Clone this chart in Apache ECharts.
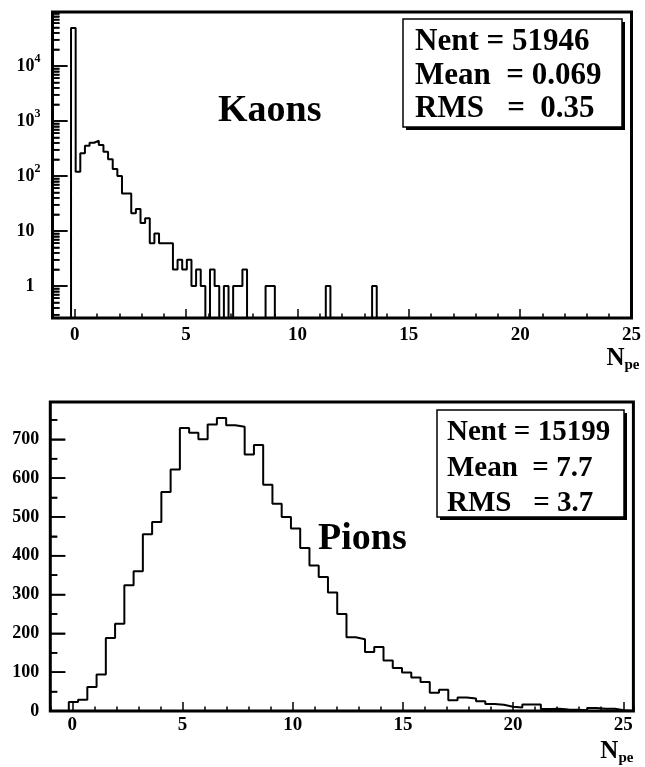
<!DOCTYPE html>
<html><head><meta charset="utf-8">
<script src="https://cdn.jsdelivr.net/npm/echarts@6/dist/echarts.min.js"></script>
<style>html,body{margin:0;padding:0;background:#fff}#c{width:645px;height:767px}</style>
</head><body><div id="c"></div>
<script>
// ---- Kaons histogram (125 bins of width 0.208 starting at -1) ----
const kaonBinStart = -1;
const kaonBinWidth = 0.208;
const kaonCounts = [
  0,0,0,0,49000,120,259,356,403,438,
  366,277,201,134,100,48,48,21,25,14,
  17,6,9,6,6,6,2,3,2,3,
  1,2,1,0,2,1,0,1,0,1,
  1,2,0,0,0,0,1,1,0,0,
  0,0,0,0,0,0,0,0,0,1,
  0,0,0,0,0,0,0,0,0,1,
  0,0,0,0,0,0,0,0,0,0,
  0,0,0,0,0,0,0,0,0,0,
  0,0,0,0,0,0,0,0,0,0,
  0,0,0,0,0,0,0,0,0,0,
  0,0,0,0,0,0,0,0,0,0,
  0,0,0,0,0
];
// ---- Pions histogram (63 bins of width 0.42 starting at -1) ----
const pionBinStart = -1;
const pionBinWidth = 0.42;
const pionCounts = [
  0,0,23,29,62,94,188,225,324,360,
  455,487,564,622,729,717,700,738,755,736,
  732,661,685,583,534,500,470,420,375,345,
  305,250,190,185,152,165,130,111,99,86,
  75,47,55,28,35,32,25,18,16,11,
  9,17,17,5,6,4,3,2,8,6,
  6,2,0
];
// ---- tick labels / tick positions ----
const xMajorTicks = [0,5,10,15,20,25];
const kaonMajorTicks = [1,10,100,1000,10000];
const kaonMinorTicks = [0.3,0.4,0.5,0.6,0.7,0.8,0.9,2,3,4,5,6,7,8,9,20,30,40,50,60,70,80,90,
  200,300,400,500,600,700,800,900,2000,3000,4000,5000,6000,7000,8000,9000,20000,30000,40000,50000,60000,70000,80000,90000];
const pionMajorTicks = [0,100,200,300,400,500,600,700];
const pionMinorTicks = [50,150,250,350,450,550,650,750];
const kaonStats = ['Nent = 51946','Mean  = 0.069','RMS   =  0.35'];
const pionStats = ['Nent = 15199','Mean  = 7.7','RMS   = 3.7'];

const FONT = '"Liberation Serif", "Times New Roman", serif';
const LOG_FLOOR = 0.01; // empty bins drawn below the log-axis minimum (clipped)
const KAON_YMIN = 0.2619, KAON_YMAX = 95900, PION_YMAX = 796;
const X_MIN = -1;

function stepData(start, width, counts, floor) {
  const pts = counts.map((c, i) => [start + width * i, (floor !== undefined && c <= 0) ? floor : c]);
  const last = pts[pts.length - 1][1];
  pts.push([start + width * counts.length, last]);
  return pts;
}

const chart = echarts.init(document.getElementById('c'), null, {renderer: 'canvas'});
const labelStyle = {color: '#000', fontFamily: FONT, fontWeight: 'bold', fontSize: 18};
const nameRich = {
  n: {fontFamily: FONT, fontWeight: 'bold', fontSize: 25, color: '#000'},
  s: {fontFamily: FONT, fontWeight: 'bold', fontSize: 15, color: '#000', padding: [14, 0, 0, 0]}
};
function noLine() { return {show: false, onZero: false}; }
function tickStyle(len) { return {show: true, inside: true, length: len, lineStyle: {color: '#000', width: 1.5}}; }
function majorX(grid, max, gap) {
  return {
    gridIndex: grid, type: 'value', min: X_MIN, max: max, position: 'bottom',
    axisLine: noLine(), splitLine: {show: false},
    axisTick: Object.assign(tickStyle(9), {customValues: xMajorTicks}),
    axisLabel: Object.assign({customValues: xMajorTicks, margin: grid === 0 ? 8 : 5}, labelStyle, {fontSize: 19}),
    name: '{n|N}{s|pe}', nameLocation: 'end', nameGap: gap,
    nameTextStyle: {align: 'right', verticalAlign: 'top', padding: [26, 0, 0, 0], rich: nameRich}
  };
}
function minorX(grid, max) {
  return {
    gridIndex: grid, type: 'value', min: X_MIN, max: max, interval: 1, position: 'bottom',
    axisLine: noLine(), splitLine: {show: false}, axisLabel: {show: false},
    axisTick: tickStyle(4.5)
  };
}
// y-axis tick marks pointing into the frame, placed through the axes' own scales
function yTickSeries(xIdx, yIdx, values, len) {
  return {
    type: 'custom', xAxisIndex: xIdx, yAxisIndex: yIdx, clip: false, silent: true, z: 100,
    data: values.map(v => [X_MIN, v]),
    renderItem: function (params, api) {
      const p = api.coord([X_MIN, api.value(1)]);
      return {type: 'line', z2: 100, shape: {x1: p[0], y1: p[1], x2: p[0] + len, y2: p[1]},
              style: {stroke: '#000', lineWidth: 1.6}};
    }
  };
}
const pionMax = pionBinStart + pionBinWidth * pionCounts.length;
const topGrid = {left: 52.5, top: 12, width: 579, height: 306};
const botGrid = {left: 50.3, top: 402, width: 583.1, height: 309};

chart.setOption({
  animation: false,
  backgroundColor: '#fff',
  grid: [
    Object.assign({show: true, borderColor: '#000', borderWidth: 3}, topGrid),
    Object.assign({show: false}, topGrid),
    Object.assign({show: true, borderColor: '#000', borderWidth: 3}, botGrid),
    Object.assign({show: false}, botGrid)
  ],
  xAxis: [
    majorX(0, 25, 8), minorX(1, 25),
    majorX(2, pionMax, 0), minorX(3, pionMax)
  ],
  yAxis: [
    {
      gridIndex: 0, type: 'log', logBase: 10, min: KAON_YMIN, max: KAON_YMAX, position: 'left',
      axisLine: noLine(), splitLine: {show: false},
      axisTick: Object.assign(tickStyle(15), {customValues: kaonMajorTicks}),
      axisLabel: Object.assign({
        customValues: kaonMajorTicks, margin: 12,
        formatter: function (v) {
          const e = Math.round(Math.log10(v));
          if (e === 0) return '{p|1}';
          if (e === 1) return '{p|10}';
          return '{b|10}{s|' + e + '}';
        },
        rich: {
          p: {fontFamily: FONT, fontWeight: 'bold', fontSize: 18, color: '#000', padding: [0, 6, 0, 0]},
          b: {fontFamily: FONT, fontWeight: 'bold', fontSize: 18, color: '#000'},
          s: {fontFamily: FONT, fontWeight: 'bold', fontSize: 12, color: '#000', padding: [0, 0, 14, 0]}
        }
      }, labelStyle)
    },
    {
      gridIndex: 1, type: 'log', logBase: 10, min: KAON_YMIN, max: KAON_YMAX, position: 'left',
      axisLine: noLine(), splitLine: {show: false}, axisLabel: {show: false},
      axisTick: Object.assign(tickStyle(7), {customValues: kaonMinorTicks})
    },
    {
      gridIndex: 2, type: 'value', min: 0, max: PION_YMAX, position: 'left',
      axisLine: noLine(), splitLine: {show: false},
      axisTick: Object.assign(tickStyle(15), {customValues: pionMajorTicks}),
      axisLabel: Object.assign({customValues: pionMajorTicks, margin: 11}, labelStyle)
    },
    {
      gridIndex: 3, type: 'value', min: 0, max: PION_YMAX, interval: 50, position: 'left',
      axisLine: noLine(), splitLine: {show: false}, axisLabel: {show: false},
      axisTick: tickStyle(7)
    }
  ],
  series: [
    {
      name: 'Kaons', type: 'line', step: 'end', xAxisIndex: 0, yAxisIndex: 0, clip: true,
      symbol: 'none', lineStyle: {color: '#000', width: 2},
      data: stepData(kaonBinStart, kaonBinWidth, kaonCounts, LOG_FLOOR)
    },
    {
      name: 'Pions', type: 'line', step: 'end', xAxisIndex: 2, yAxisIndex: 2, clip: true,
      symbol: 'none', lineStyle: {color: '#000', width: 2},
      data: stepData(pionBinStart, pionBinWidth, pionCounts)
    },
    yTickSeries(0, 0, kaonMajorTicks, 15),
    yTickSeries(0, 0, kaonMinorTicks, 7),
    yTickSeries(2, 2, pionMajorTicks, 15),
    yTickSeries(2, 2, pionMinorTicks, 7)
  ],
  graphic: [
    {type: 'text', x: 218, y: 111.5, z: 10, style: {text: 'Kaons', fontFamily: FONT, fontWeight: 'bold', fontSize: 38, fill: '#000', align: 'left', verticalAlign: 'middle'}},
    {type: 'text', x: 318, y: 539.5, z: 10, style: {text: 'Pions', fontFamily: FONT, fontWeight: 'bold', fontSize: 38, fill: '#000', align: 'left', verticalAlign: 'middle'}},
    {type: 'rect', z: 10, shape: {x: 406, y: 22, width: 219, height: 108}, style: {fill: '#000'}},
    {type: 'rect', z: 11, shape: {x: 403, y: 19, width: 219, height: 108}, style: {fill: '#fff', stroke: '#000', lineWidth: 1.5}},
    {type: 'rect', z: 10, shape: {x: 440, y: 413, width: 187, height: 107}, style: {fill: '#000'}},
    {type: 'rect', z: 11, shape: {x: 437, y: 410, width: 187, height: 107}, style: {fill: '#fff', stroke: '#000', lineWidth: 1.5}}
  ].concat(kaonStats.map((t, i) => ({
    type: 'text', z: 12, x: 415, y: [41.7, 75.8, 109][i],
    style: {text: t, fontFamily: FONT, fontWeight: 'bold', fontSize: 31, fill: '#000', align: 'left', verticalAlign: 'middle'}
  }))).concat(pionStats.map((t, i) => ({
    type: 'text', z: 12, x: 447, y: [432.5, 469, 504][i],
    style: {text: t, fontFamily: FONT, fontWeight: 'bold', fontSize: 29, fill: '#000', align: 'left', verticalAlign: 'middle'}
  })))
});
</script>
</body></html>
